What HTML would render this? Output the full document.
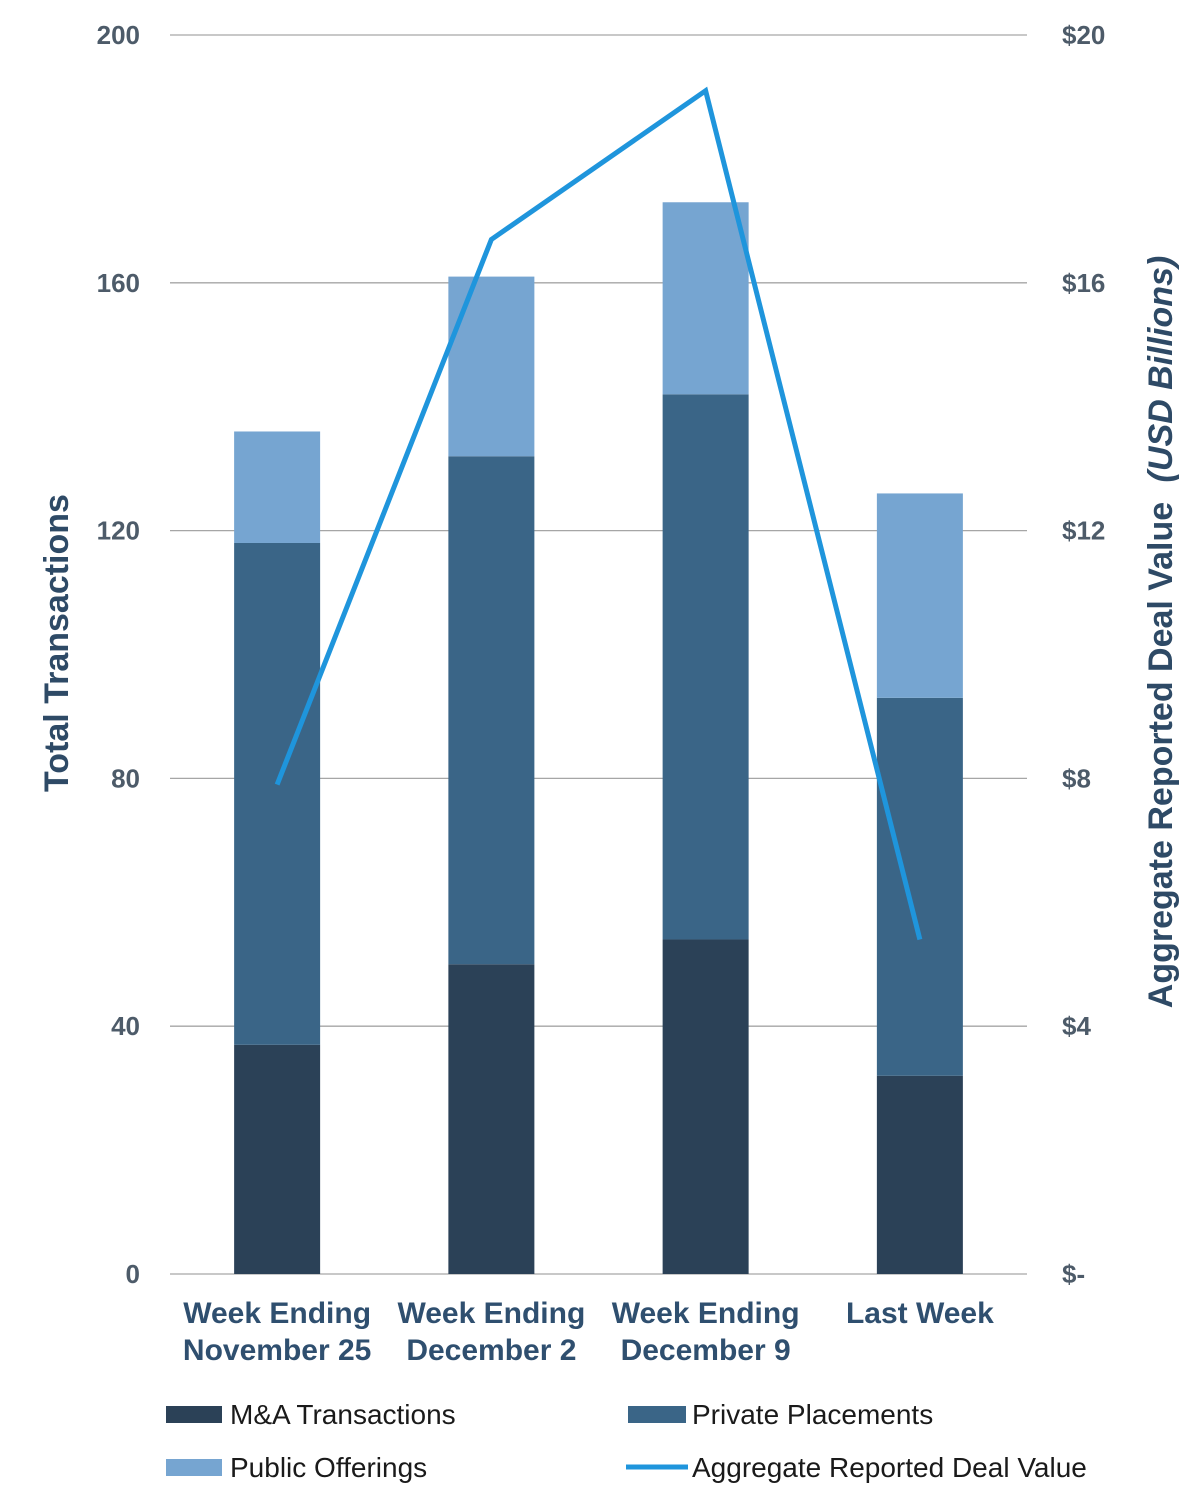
<!DOCTYPE html>
<html><head><meta charset="utf-8"><style>
html,body{margin:0;padding:0;background:#fff;}
svg{display:block;font-family:"Liberation Sans",sans-serif;}
</style></head><body>
<svg id="chart" width="1200" height="1511" viewBox="0 0 1200 1511">
<g id="grid"></g>
<g id="bars"></g>
<g id="line"></g>
<g id="ticks"></g>
<g id="cats"></g>
<text transform="translate(68,643) rotate(-90)" text-anchor="middle" font-size="34" font-weight="bold" fill="#2e4a66">Total Transactions</text>
<text transform="translate(1172,632) rotate(-90)" text-anchor="middle" font-size="34" font-weight="bold" fill="#2e4a66">Aggregate Reported Deal Value <tspan font-style="italic" dx="10">(USD Billions)</tspan></text>
<g font-size="28" fill="#1a1a1a">
  <g><rect x="166" y="1406" width="56" height="17" fill="#2b4157"/><text x="230" y="1424">M&amp;A Transactions</text></g>
  <g><rect x="628" y="1406" width="58" height="17" fill="#3a6587"/><text x="692" y="1424">Private Placements</text></g>
  <g><rect x="166" y="1459" width="56" height="17" fill="#76a5d1"/><text x="230" y="1477">Public Offerings</text></g>
  <g><line x1="626" y1="1467" x2="688" y2="1467" stroke="#1f95dc" stroke-width="5"/><text x="692" y="1477">Aggregate Reported Deal Value</text></g>
</g>
</svg>
<script>
const categories = [["Week Ending","November 25"],["Week Ending","December 2"],["Week Ending","December 9"],["Last Week"]];
const maValues = [37, 50, 54, 32];
const privateValues = [81, 82, 88, 61];
const publicValues = [18, 29, 31, 33];
const dealValues = [7.9, 16.7, 19.1, 5.4];
const leftTicks = [0, 40, 80, 120, 160, 200];
const rightTickLabels = ["$-", "$4", "$8", "$12", "$16", "$20"];

const NS = "http://www.w3.org/2000/svg";
const x0 = 170, x1 = 1027, yTop = 35, yBot = 1274;
const yL = v => yBot - (yBot - yTop) * v / 200;
const yR = v => yBot - (yBot - yTop) * v / 20;
const band = (x1 - x0) / categories.length;
const xc = i => x0 + band * (i + 0.5);
const bw = 86;
function mk(tag, attrs, parent) { const e = document.createElementNS(NS, tag); for (const k in attrs) e.setAttribute(k, attrs[k]); parent.appendChild(e); return e; }

const grid = document.getElementById('grid'), ticks = document.getElementById('ticks');
leftTicks.forEach((t, i) => {
  const l = mk('line', {x1: x0, x2: x1, y1: yL(t), y2: yL(t), stroke: '#a6a6a6', 'stroke-width': 1.3}, grid);
  
  
  const a = mk('text', {x: 140, y: yL(t) + 9, 'text-anchor': 'end', 'font-size': 26, 'font-weight': 'bold', fill: '#4d5b69'}, ticks);
  a.textContent = t;
  
  
  const b = mk('text', {x: 1062, y: yR(t / 10) + 9, 'font-size': 26, 'font-weight': 'bold', fill: '#4d5b69'}, ticks);
  b.textContent = rightTickLabels[i];
  
  
});

const bars = document.getElementById('bars');
categories.forEach((c, i) => {
  const segs = [[maValues[i], '#2b4157', 'bar-ma'], [privateValues[i], '#3a6587', 'bar-private'], [publicValues[i], '#76a5d1', 'bar-public']];
  let base = 0;
  segs.forEach(s => {
    const r = mk('rect', {x: xc(i) - bw / 2, y: yL(base + s[0]), width: bw, height: yL(base) - yL(base + s[0]), fill: s[1]}, bars);
    
    
    base += s[0];
  });
  const t = mk('text', {x: xc(i), y: 1323, 'text-anchor': 'middle', 'font-size': 30, 'font-weight': 'bold', fill: '#2f4f6f'}, document.getElementById('cats'));
  
  
  c.forEach((ln, k) => { const ts = mk('tspan', {x: xc(i), dy: k ? 37 : 0}, t); ts.textContent = ln; });
});

const pts = dealValues.map((v, i) => xc(i) + ',' + yR(v)).join(' ');
const pl = mk('polyline', {points: pts, fill: 'none', stroke: '#1f95dc', 'stroke-width': 5, 'stroke-linejoin': 'miter'}, document.getElementById('line'));


</script>
</body></html>
